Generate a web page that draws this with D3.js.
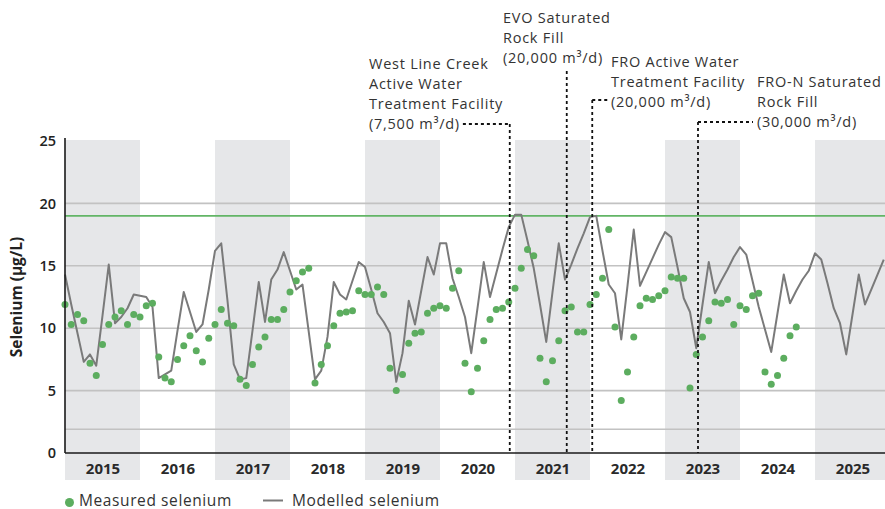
<!DOCTYPE html>
<html>
<head>
<meta charset="utf-8">
<script src="https://cdn.jsdelivr.net/npm/d3@7"></script>
<style>
  html, body { margin: 0; padding: 0; background: #ffffff; }
  svg { display: block; }
  text { font-family: "Open Sans", sans-serif; }
</style>
</head>
<body>
<svg id="chart" width="885" height="509"></svg>
<script>
// ---------------- DATA ----------------
const startYear = 2015;
const years = [2015, 2016, 2017, 2018, 2019, 2020, 2021, 2022, 2023, 2024, 2025];
const yTicks = [0, 5, 10, 15, 20, 25];
const gridValues = [5, 10, 15, 20];
const lowerGuide = 1.9;   // grey reference line
const greenGuide = 19;    // green reference line

// Measured selenium, monthly from Jan 2015 (µg/L)
const measured = [
  11.9, 10.3, 11.1, 10.6, 7.2, 6.2, 8.7, 10.3, 10.9, 11.4, 10.3, 11.1,
  10.9, 11.8, 12.0, 7.7, 6.0, 5.7, 7.5, 8.6, 9.4, 8.2, 7.3, 9.2,
  10.3, 11.5, 10.4, 10.2, 5.9, 5.4, 7.1, 8.5, 9.3, 10.7, 10.7, 11.5,
  12.9, 13.8, 14.5, 14.8, 5.6, 7.1, 8.6, 10.2, 11.2, 11.3, 11.4, 13.0,
  12.7, 12.7, 13.3, 12.7, 6.8, 5.0, 6.3, 8.8, 9.6, 9.7, 11.2, 11.6,
  11.8, 11.6, 13.2, 14.6, 7.2, 4.9, 6.8, 9.0, 10.7, 11.5, 11.6, 12.1,
  13.2, 14.8, 16.3, 15.8, 7.6, 5.7, 7.4, 9.0, 11.4, 11.7, 9.7, 9.7,
  11.9, 12.7, 14.0, 17.9, 10.1, 4.2, 6.5, 9.3, 11.8, 12.4, 12.3, 12.6,
  13.0, 14.1, 14.0, 14.0, 5.2, 7.9, 9.3, 10.6, 12.1, 12.0, 12.3, 10.3,
  11.8, 11.5, 12.6, 12.8, 6.5, 5.5, 6.2, 7.6, 9.4, 10.1
];

// Modelled selenium, monthly from Jan 2015 (µg/L)
const modelled = [
  14.3, 11.9, 9.6, 7.3, 7.9, 7.0, 11.0, 15.1, 10.4, 10.9, 11.6, 12.7,
  12.6, 12.5, 11.7, 6.0, 6.3, 6.6, 9.8, 12.9, 11.3, 9.7, 10.3, 13.1,
  16.2, 16.8, 12.2, 7.1, 5.9, 6.0, 9.8, 13.7, 10.5, 13.9, 14.7, 16.1,
  14.6, 13.1, 13.5, 9.7, 5.9, 6.6, 9.3, 13.7, 12.7, 12.3, 13.8, 15.3,
  14.9, 13.1, 11.2, 10.5, 9.6, 5.7, 8.0, 12.2, 10.3, 13.0, 15.7, 14.3,
  16.8, 16.8, 14.0, 12.5, 10.9, 8.0, 11.6, 15.3, 12.5, 14.4, 16.3, 18.1,
  19.1, 19.1, 17.0, 14.8, 11.9, 8.9, 12.9, 16.8, 13.9, 15.1, 16.4, 17.6,
  18.9, 19.0, 16.2, 13.5, 12.8, 9.1, 13.4, 17.9, 13.4, 14.5, 15.6, 16.7,
  17.7, 17.3, 14.9, 12.4, 11.3, 8.4, 11.9, 15.3, 12.8, 13.8, 14.7, 15.7,
  16.5, 15.9, 13.8, 11.7, 9.9, 8.1, 11.2, 14.3, 12.0, 13.0, 13.9, 14.6,
  16.0, 15.5, 13.6, 11.6, 10.4, 7.9, 11.1, 14.3, 11.9, 13.1, 14.3, 15.5
];

// Annotations (decimal year of event, label lines)
const annoYears = [2020.93, 2021.69, 2022.03, 2023.44];
const annoLabels = [
  ["West Line Creek", "Active Water", "Treatment Facility", "(7,500 m³/d)"],
  ["EVO Saturated", "Rock Fill", "(20,000 m³/d)"],
  ["FRO Active Water", "Treatment Facility", "(20,000 m³/d)"],
  ["FRO-N Saturated", "Rock Fill", "(30,000 m³/d)"]
];

const legendLabels = ["Measured selenium", "Modelled selenium"];
const yAxisTitle = "Selenium (µg/L)";

// ---------------- LAYOUT ----------------
const pL = 65, pR = 885, pT = 141, pB = 453;
const svg = d3.select("#chart");

const x = d3.scaleLinear()
  .domain([startYear, startYear + 131.2 / 12])
  .range([pL, pR]);
const y = d3.scaleLinear().domain([0, 25]).range([pB, pT]);
const mYear = i => startYear + i / 12;

const green = "#5cad5f";
const grey = "#7a7a7a";

// Year bands
const xEnd = x.domain()[1];
svg.append("g").selectAll("rect")
  .data(years.filter((d, i) => i % 2 === 0))
  .join("rect")
  .attr("x", d => x(d))
  .attr("width", d => x(Math.min(d + 1, xEnd)) - x(d))
  .attr("y", pT - 1)
  .attr("height", 480 - pT + 1)
  .attr("fill", "#e6e7e9");

// Gridlines
svg.append("g").selectAll("line")
  .data(gridValues.concat([lowerGuide]))
  .join("line")
  .attr("x1", pL).attr("x2", pR)
  .attr("y1", d => y(d)).attr("y2", d => y(d))
  .attr("stroke", "#c2c2c2")
  .attr("stroke-width", 1.6);

svg.append("line")
  .attr("x1", pL).attr("x2", pR)
  .attr("y1", y(greenGuide)).attr("y2", y(greenGuide))
  .attr("stroke", "#62b566")
  .attr("stroke-width", 1.8);

// Y axis labels
const yAxis = d3.axisLeft(y).tickValues(yTicks).tickSize(0).tickPadding(9);
const gy = svg.append("g").attr("transform", `translate(${pL},0)`).call(yAxis);
gy.select(".domain").remove();
gy.selectAll("text")
  .attr("font-family", "'Open Sans', sans-serif")
  .attr("font-size", 14.5)
  .attr("font-weight", 600)
  .attr("fill", "#222");

// Year labels via bottom axis
const xAxis = d3.axisBottom(x)
  .tickValues(years.map(d => d + 0.5))
  .tickFormat((d) => String(Math.floor(d)))
  .tickSize(0).tickPadding(10);
const gx = svg.append("g").attr("transform", `translate(0,${pB})`).call(xAxis);
gx.select(".domain").remove();
gx.selectAll("text")
  .attr("font-family", "'Open Sans', sans-serif")
  .attr("font-size", 15)
  .attr("font-weight", 700)
  .attr("fill", "#2a2a2a");

// Modelled line
svg.append("path")
  .datum(modelled)
  .attr("fill", "none")
  .attr("stroke", grey)
  .attr("stroke-width", 2)
  .attr("stroke-linejoin", "round")
  .attr("d", d3.line().x((d, i) => x(mYear(i))).y(d => y(d)));

// Measured points
svg.append("g").selectAll("circle")
  .data(measured)
  .join("circle")
  .attr("cx", (d, i) => x(mYear(i)))
  .attr("cy", d => y(d))
  .attr("r", 3.5)
  .attr("fill", green);

// Axis lines
svg.append("line").attr("x1", pL).attr("x2", pL).attr("y1", pT - 3).attr("y2", pB)
  .attr("stroke", "#1a1a1a").attr("stroke-width", 1.6);
svg.append("line").attr("x1", pL).attr("x2", pR).attr("y1", pB).attr("y2", pB)
  .attr("stroke", "#1a1a1a").attr("stroke-width", 1.6);

// Y axis title
svg.append("text")
  .attr("transform", `translate(22,${(pT + pB) / 2}) rotate(-90)`)
  .attr("text-anchor", "middle")
  .attr("font-size", 15.5)
  .attr("font-weight", 700)
  .attr("fill", "#222")
  .text(yAxisTitle);

// ---------------- ANNOTATIONS ----------------
const annoFont = 14.5;
const lh = 20;
const dash = "3,3";
const annoG = svg.append("g");
function drawLabel(lines, tx, lastBaseline) {
  const n = lines.length;
  let lastNode = null;
  lines.forEach((s, k) => {
    lastNode = annoG.append("text")
      .attr("font-size", annoFont)
      .attr("letter-spacing", 0.75)
      .attr("fill", "#333")
      .attr("x", tx)
      .attr("y", lastBaseline - (n - 1 - k) * lh)
      .text(s);
  });
  return lastNode;
}
function dotted(x1, y1, x2, y2) {
  annoG.append("line")
    .attr("x1", x1).attr("y1", y1).attr("x2", x2).attr("y2", y2)
    .attr("stroke", "#111").attr("stroke-width", 1.8)
    .attr("stroke-dasharray", dash);
}

// West Line Creek
{
  const lx = x(annoYears[0]);
  const last = drawLabel(annoLabels[0], 369, 128.5);
  const endX = 369 + last.node().getComputedTextLength();
  dotted(endX + 3, 124, lx, 124);
  dotted(lx, 124, lx, pB);
}
// EVO
{
  const lx = x(annoYears[1]);
  drawLabel(annoLabels[1], 503, 63);
  dotted(lx, 71, lx, pB);
}
// FRO
{
  const lx = x(annoYears[2]);
  const tx = 611;
  drawLabel(annoLabels[2], tx, 106.5);
  dotted(lx, 100, tx - 3, 100);
  dotted(lx, 100, lx, pB);
}
// FRO-N
{
  const lx = x(annoYears[3]);
  const tx = 757;
  drawLabel(annoLabels[3], tx, 127);
  dotted(lx, 122, tx - 4, 122);
  dotted(lx, 122, lx, pB);
}

// ---------------- LEGEND ----------------
const lg = svg.append("g");
lg.append("circle").attr("cx", 69.5).attr("cy", 502.5).attr("r", 4.5).attr("fill", green);
lg.append("text").attr("x", 79).attr("y", 505.5).attr("font-size", 15.5).attr("letter-spacing", 0.6)
  .attr("fill", "#333").text(legendLabels[0]);
lg.append("line").attr("x1", 263).attr("x2", 283).attr("y1", 500.5).attr("y2", 500.5)
  .attr("stroke", grey).attr("stroke-width", 2);
lg.append("text").attr("x", 292).attr("y", 505.5).attr("font-size", 15.5).attr("letter-spacing", 0.6)
  .attr("fill", "#333").text(legendLabels[1]);
</script>
</body>
</html>
